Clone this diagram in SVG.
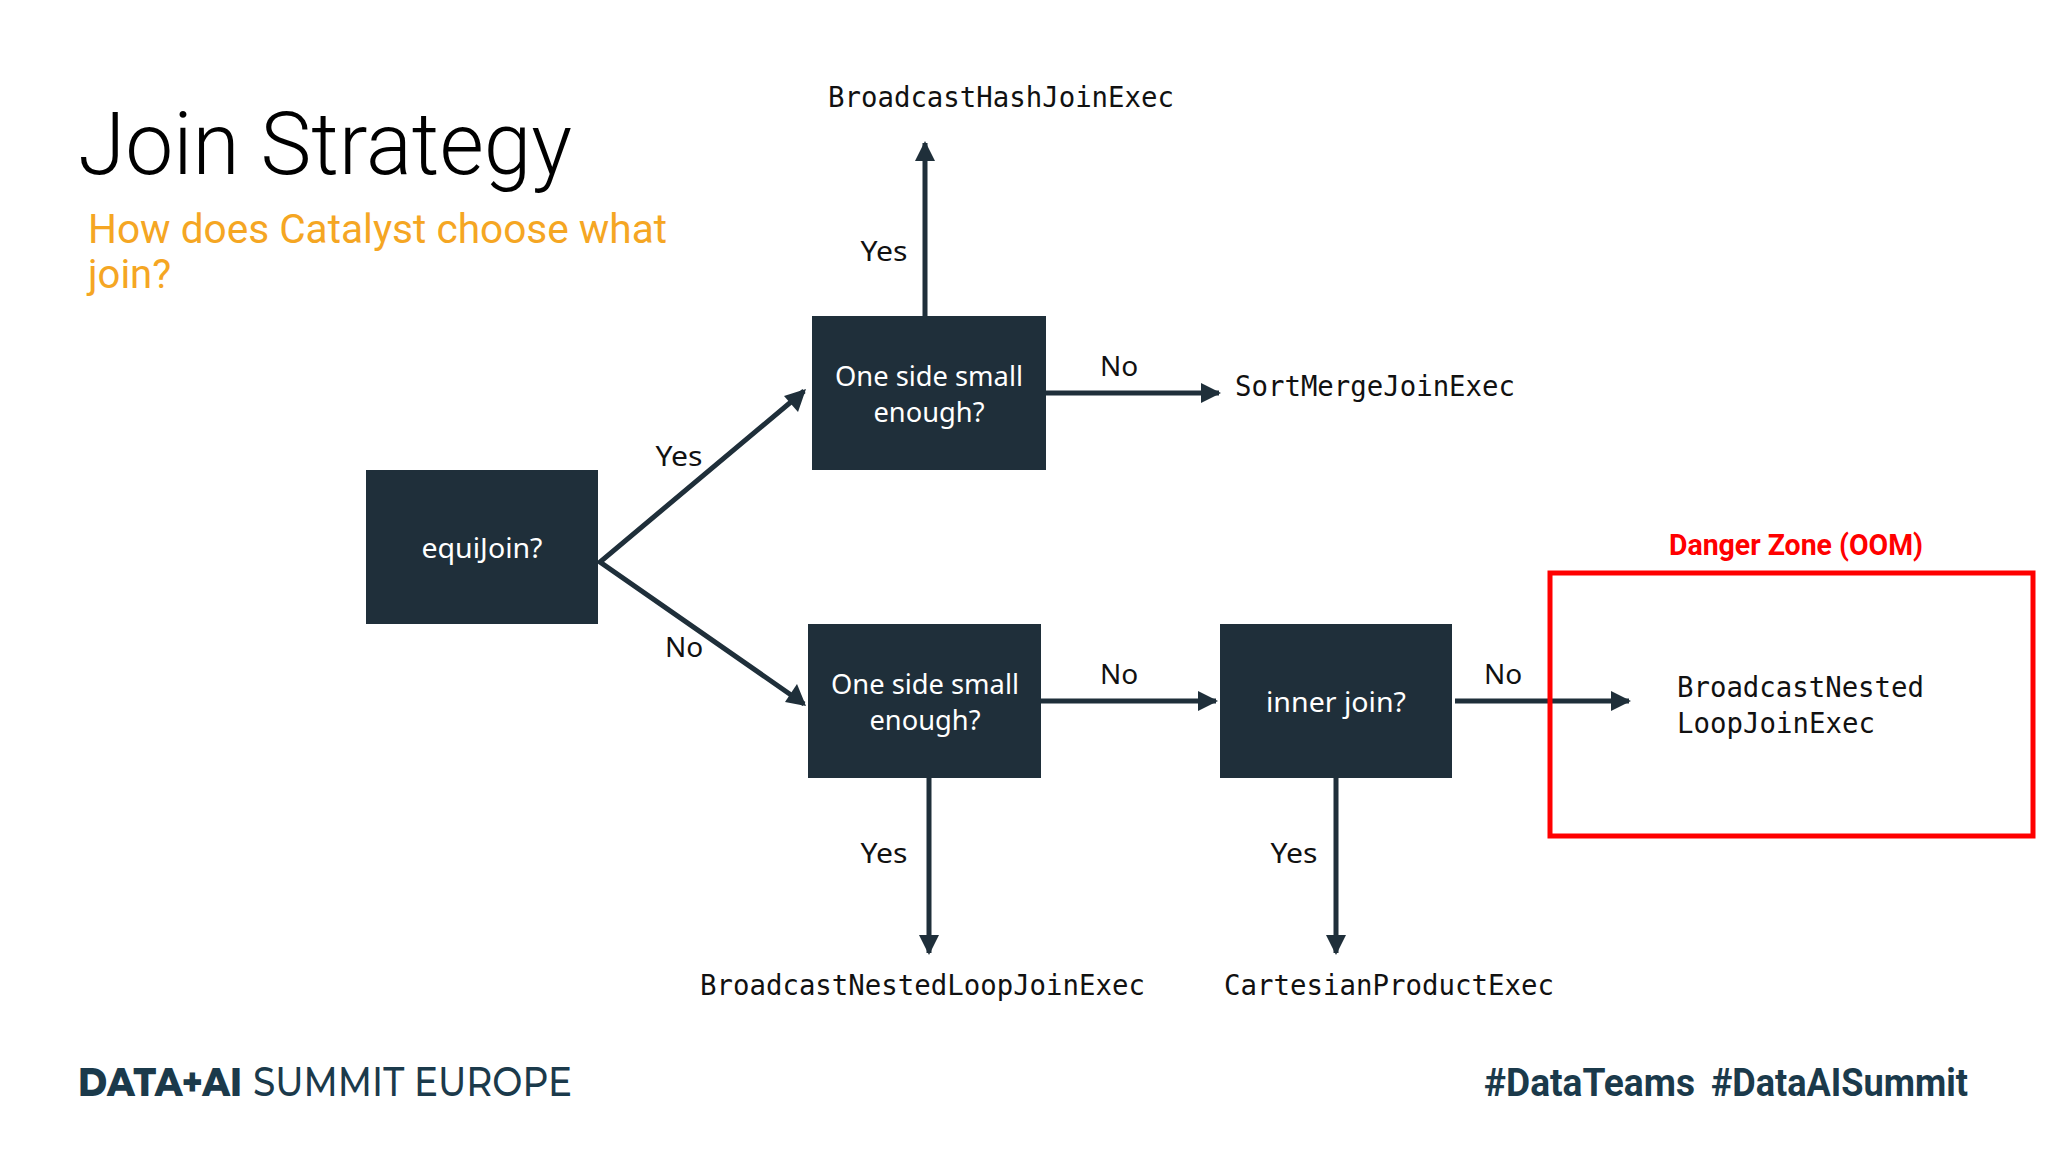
<svg xmlns="http://www.w3.org/2000/svg" width="2048" height="1152" viewBox="0 0 2048 1152">
<defs>
<style>
.box{fill:#1f2f3a}
.bt{font-family:"Noto Sans","Open Sans",sans-serif;font-size:28px;fill:#ffffff;text-anchor:middle}
.lbl{font-family:"Noto Sans","Open Sans",sans-serif;font-size:28px;fill:#111;text-anchor:middle}
.mono{font-family:"DejaVu Sans Mono","Liberation Mono",monospace;font-size:27.5px;fill:#111}
.ln{stroke:#1f2f3a;stroke-width:5;fill:none}
.ft{font-family:Roboto,Inter,sans-serif;font-weight:700;font-size:38px;fill:#1b3a4b}
.brand{font-family:Montserrat,Lato,sans-serif;font-size:40px;fill:#1b3a4b}
</style>
<marker id="ah" viewBox="0 0 10 10" refX="9" refY="5" markerWidth="4" markerHeight="4" orient="auto" markerUnits="strokeWidth">
<path d="M0,0 L10,5 L0,10 z" fill="#1f2f3a"/>
</marker>
</defs>
<rect width="2048" height="1152" fill="#ffffff"/>
<g id="title">
<text x="78" y="174" font-family="Roboto,Inter,sans-serif" font-weight="300" font-size="88" fill="#000" textLength="494" lengthAdjust="spacingAndGlyphs">Join Strategy</text>
<text x="88" y="243" font-family="Roboto,Inter,sans-serif" font-size="40" fill="#f5a623" textLength="579" lengthAdjust="spacingAndGlyphs">How does Catalyst choose what</text>
<text x="88" y="288" font-family="Roboto,Inter,sans-serif" font-size="40" fill="#f5a623">join?</text>
</g>
<g id="connectors">
<line class="ln" x1="925" y1="316" x2="925" y2="143" marker-end="url(#ah)"/>
<line class="ln" x1="1046" y1="393" x2="1219" y2="393" marker-end="url(#ah)"/>
<polyline class="ln" points="804,391 600,562 804,704" stroke-linejoin="miter"/>
<path d="M806,389 L784,396 L798,412 z" fill="#1f2f3a"/>
<path d="M806,706 L785,702 L797,684 z" fill="#1f2f3a"/>
<line class="ln" x1="1041" y1="701" x2="1216" y2="701" marker-end="url(#ah)"/>
<line class="ln" x1="1455" y1="701" x2="1629" y2="701" marker-end="url(#ah)"/>
<line class="ln" x1="929" y1="778" x2="929" y2="953" marker-end="url(#ah)"/>
<line class="ln" x1="1336" y1="778" x2="1336" y2="953" marker-end="url(#ah)"/>
<text class="lbl" x="884" y="261" textLength="47" lengthAdjust="spacingAndGlyphs">Yes</text>
<text class="lbl" x="1119" y="376">No</text>
<text class="lbl" x="679" y="466" textLength="47" lengthAdjust="spacingAndGlyphs">Yes</text>
<text class="lbl" x="684" y="657">No</text>
<text class="lbl" x="1119" y="684">No</text>
<text class="lbl" x="1503" y="684">No</text>
<text class="lbl" x="884" y="863" textLength="47" lengthAdjust="spacingAndGlyphs">Yes</text>
<text class="lbl" x="1294" y="863" textLength="47" lengthAdjust="spacingAndGlyphs">Yes</text>
</g>
<g id="equijoin">
<rect class="box" x="366" y="470" width="232" height="154"/>
<text class="bt" x="482" y="558" textLength="121" lengthAdjust="spacingAndGlyphs">equiJoin?</text>
</g>
<g id="small-top">
<rect class="box" x="812" y="316" width="234" height="154"/>
<text class="bt" x="929" y="386" textLength="188" lengthAdjust="spacingAndGlyphs">One side small</text>
<text class="bt" x="929" y="422" textLength="111" lengthAdjust="spacingAndGlyphs">enough?</text>
</g>
<g id="small-bottom">
<rect class="box" x="808" y="624" width="233" height="154"/>
<text class="bt" x="925" y="694" textLength="188" lengthAdjust="spacingAndGlyphs">One side small</text>
<text class="bt" x="925" y="730" textLength="111" lengthAdjust="spacingAndGlyphs">enough?</text>
</g>
<g id="inner-join">
<rect class="box" x="1220" y="624" width="232" height="154"/>
<text class="bt" x="1336" y="712" textLength="140" lengthAdjust="spacingAndGlyphs">inner join?</text>
</g>
<g id="bhj"><text class="mono" x="828" y="107" textLength="346" lengthAdjust="spacingAndGlyphs">BroadcastHashJoinExec</text></g>
<g id="smj"><text class="mono" x="1235" y="396" textLength="280" lengthAdjust="spacingAndGlyphs">SortMergeJoinExec</text></g>
<g id="bnlj"><text class="mono" x="700" y="995" textLength="445" lengthAdjust="spacingAndGlyphs">BroadcastNestedLoopJoinExec</text></g>
<g id="cpe"><text class="mono" x="1224" y="995" textLength="330" lengthAdjust="spacingAndGlyphs">CartesianProductExec</text></g>
<g id="danger">
<rect x="1550" y="573" width="483" height="263" fill="none" stroke="#ff0000" stroke-width="5"/>
<text x="1796" y="555" text-anchor="middle" font-family="Roboto,Inter,sans-serif" font-weight="700" font-size="29" fill="#ff0000" textLength="254" lengthAdjust="spacingAndGlyphs">Danger Zone (OOM)</text>
<text class="mono" x="1677" y="697" textLength="247" lengthAdjust="spacingAndGlyphs">BroadcastNested</text>
<text class="mono" x="1677" y="733" textLength="198" lengthAdjust="spacingAndGlyphs">LoopJoinExec</text>
</g>
<g id="footer">
<text class="brand" x="78" y="1096" font-weight="800" textLength="164" lengthAdjust="spacingAndGlyphs">DATA+AI</text>
<text class="brand" x="253" y="1096" font-weight="500" textLength="319" lengthAdjust="spacingAndGlyphs">SUMMIT EUROPE</text>
<text class="ft" x="1484" y="1096" textLength="211" lengthAdjust="spacingAndGlyphs">#DataTeams</text>
<text class="ft" x="1711" y="1096" textLength="257" lengthAdjust="spacingAndGlyphs">#DataAISummit</text>
</g>
</svg>
